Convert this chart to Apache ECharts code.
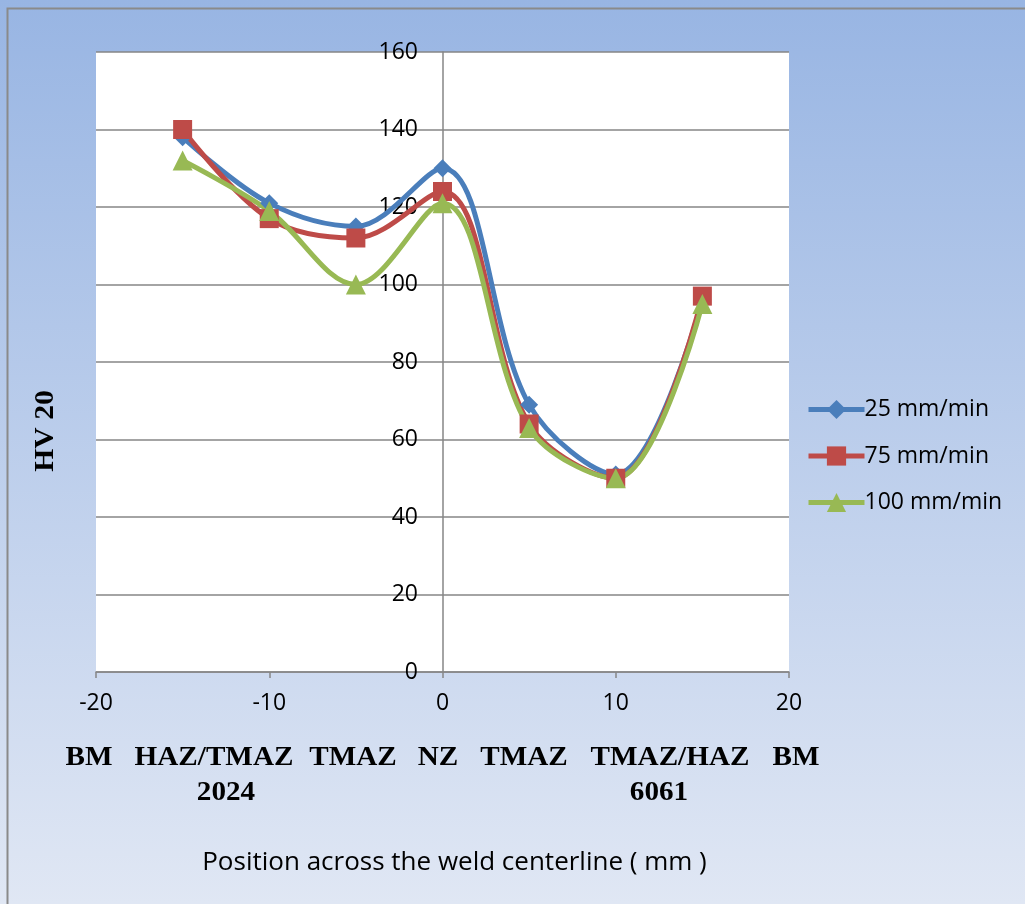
<!DOCTYPE html>
<html>
<head>
<meta charset="utf-8">
<script src="https://cdn.jsdelivr.net/npm/echarts@6/dist/echarts.min.js"></script>
<style>
  html, body { margin: 0; padding: 0; background: #ffffff; }
  #chart { width: 1025px; height: 904px; }
</style>
</head>
<body>
<div id="chart"></div>
<script>
// Positions across the weld (mm) and hardness readings (HV 20)
const positions = [-15, -10, -5, 0, 5, 10, 15];
const hv25 = [138, 121, 115, 130, 69, 51, 96];
const hv75 = [140, 117, 112, 124, 64, 50, 97];
const hv100 = [132, 119, 100, 121, 63, 50, 95];
const seriesNames = ['25 mm/min', '75 mm/min', '100 mm/min'];
const xTicks = [-20, -10, 0, 10, 20];
const yTicks = [0, 20, 40, 60, 80, 100, 120, 140, 160];

// Zone captions written under the axis: [text, x centre, y centre]
const zoneCaptions = [
  ['BM', 89, 758], ['HAZ/TMAZ', 214, 758], ['2024', 226, 793],
  ['TMAZ', 353, 758], ['NZ', 438, 758], ['TMAZ', 524, 758],
  ['TMAZ/HAZ', 670, 758], ['6061', 659, 793], ['BM', 796, 758]
];

const pair = (vals) => positions.map((p, i) => [p, vals[i]]);
const colors = ['#4A7EBB', '#BE4B48', '#98B954'];
const symbols = ['diamond', 'rect', 'triangle'];
const symbolSizes = [18, 19, 20];
const datasets = [hv25, hv75, hv100];

const captionStyle = (t) => ({
  text: t, align: 'center', verticalAlign: 'middle',
  font: 'bold 27px "Liberation Serif"', fill: '#000'
});

const chart = echarts.init(document.getElementById('chart'));
chart.setOption({
  backgroundColor: new echarts.graphic.LinearGradient(0, 0, 0, 1, [
    { offset: 0, color: '#98B5E3' },
    { offset: 1, color: '#E0E7F4' }
  ]),
  animation: false,
  color: colors,
  grid: {
    left: 96, right: 236, top: 52, bottom: 232,
    show: true, backgroundColor: '#ffffff', borderWidth: 0
  },
  legend: {
    orient: 'vertical',
    left: 806, top: 398, padding: 0,
    itemWidth: 56, itemHeight: 24, itemGap: 23.5,
    data: seriesNames,
    lineStyle: { width: 5 },
    textStyle: { fontFamily: 'Open Sans', fontSize: 23, color: '#000', padding: [0, 0, 0, -5] }
  },
  xAxis: {
    type: 'value', min: xTicks[0], max: xTicks[xTicks.length - 1], interval: 10,
    axisLine: { onZero: false, lineStyle: { color: '#868686', width: 1.5 } },
    axisTick: { show: true, length: 6, lineStyle: { color: '#868686', width: 1.5 } },
    splitLine: { show: false },
    axisLabel: { margin: 20, fontFamily: 'Open Sans', fontSize: 23, color: '#000' },
    name: 'Position across the weld centerline ( mm )',
    nameLocation: 'middle', nameGap: 178,
    nameTextStyle: { fontFamily: 'Open Sans', fontSize: 26, color: '#000', padding: [0, 0, 0, 24] }
  },
  yAxis: {
    type: 'value', min: yTicks[0], max: yTicks[yTicks.length - 1], interval: 20,
    axisLine: { onZero: true, lineStyle: { color: '#868686', width: 1.5 } },
    axisTick: { show: false },
    splitLine: { show: true, lineStyle: { color: '#868686', width: 1.5 } },
    axisLabel: { margin: -322, align: 'right', fontFamily: 'Open Sans', fontSize: 23, color: '#000' }
  },
  graphic: [
    {
      type: 'rect', left: 5, top: 6, silent: true,
      shape: { width: 1100, height: 1000 },
      style: { fill: 'none', stroke: '#8a8a8a', lineWidth: 2 }
    },
    {
      type: 'text', x: 46, y: 431, rotation: Math.PI / 2, scaleX: 1.1,
      style: captionStyle('HV 20')
    }
  ].concat(zoneCaptions.map(([t, x, y]) => ({
    type: 'text', x: x, y: y, scaleX: 1.08,
    style: captionStyle(t)
  }))),
  series: datasets.map((vals, i) => ({
    name: seriesNames[i],
    type: 'line',
    data: pair(vals),
    smooth: 0.35,
    symbol: symbols[i],
    symbolSize: symbolSizes[i],
    lineStyle: { width: 5, color: colors[i] },
    itemStyle: { color: colors[i] }
  }))
});
</script>
</body>
</html>
